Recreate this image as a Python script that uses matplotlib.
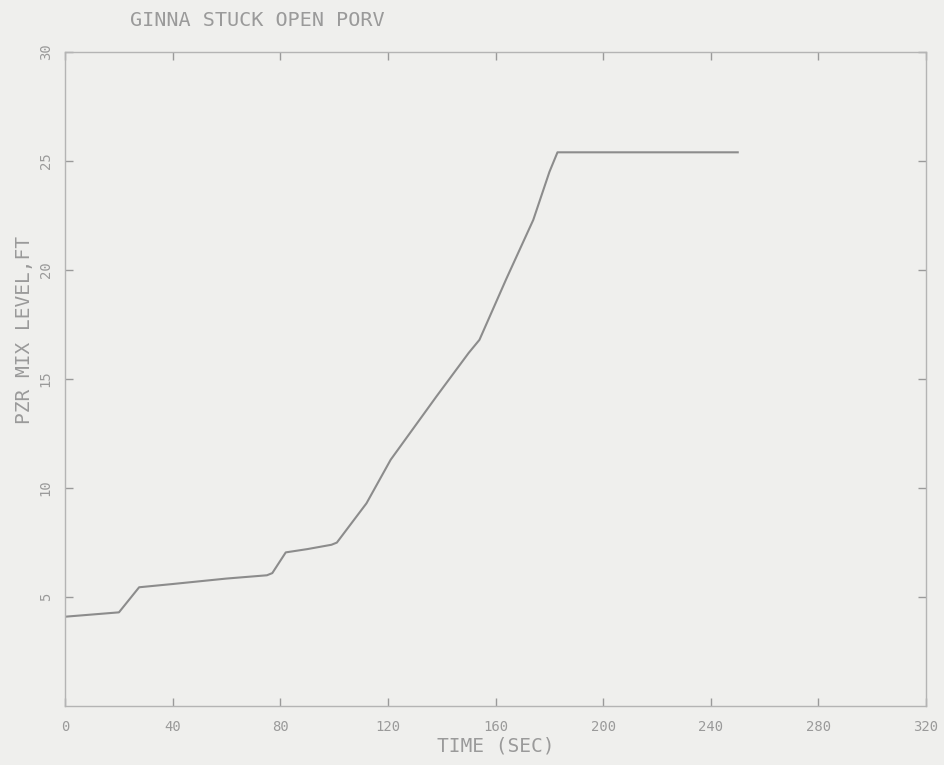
import matplotlib.pyplot as plt

# values
time_sec = [0, 10, 20, 27.5, 40, 60, 75, 77, 82, 90, 99, 101, 112, 121, 138,
            150, 154, 164, 174, 180, 183, 250]
level_ft = [4.1, 4.2, 4.3, 5.45, 5.6, 5.85, 6.0, 6.1, 7.05, 7.2, 7.4, 7.5,
            9.3, 11.3, 14.2, 16.2, 16.8, 19.6, 22.3, 24.5, 25.4, 25.4]

x_ticks = [0, 40, 80, 120, 160, 200, 240, 280, 320]
y_ticks = [5, 10, 15, 20, 25, 30]

bg = '#efefed'
ink = '#9a9a9a'

plt.rc('font', family=['DejaVu Sans Mono', 'DejaVu Sans'], size=10)

fig = plt.figure(figsize=(9.44, 7.65), dpi=100, facecolor=bg)
ax = fig.add_axes([0.069, 0.077, 0.912, 0.855], facecolor=bg)

ax.plot(time_sec, level_ft, color='#8c8c8c', linewidth=1.5)

ax.set_xlim(0, 320)
ax.set_ylim(0, 30)
ax.set_xticks(x_ticks)
ax.set_yticks(y_ticks)
ax.set_xticklabels([str(v) for v in x_ticks])
ax.set_yticklabels([str(v) for v in y_ticks], rotation=90, va='center')
ax.tick_params(direction='in', length=6, width=1, color=ink, labelcolor=ink,
               top=True, right=True, pad=10)
ax.tick_params(axis='y', pad=9)
for s in ax.spines.values():
    s.set_color('#b4b4b4')
    s.set_linewidth(1.0)

ax.set_xlabel('TIME (SEC)', color=ink, fontsize=14, labelpad=2)
ax.set_ylabel('PZR MIX LEVEL,FT', color=ink, fontsize=14)
ax.yaxis.set_label_coords(-0.036, 0.575)

fig.text(0.138, 0.973, 'GINNA STUCK OPEN PORV', color=ink, fontsize=14.5,
         ha='left', va='center')

fig.savefig('out.png', dpi=100, facecolor=bg)
